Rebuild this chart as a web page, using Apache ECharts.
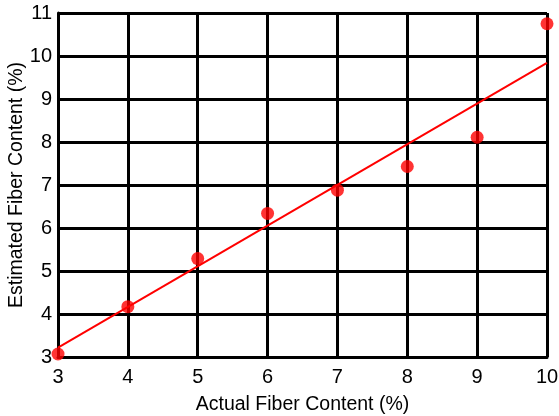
<!DOCTYPE html>
<html>
<head>
<meta charset="utf-8">
<script src="https://cdn.jsdelivr.net/npm/echarts@6/dist/echarts.min.js"></script>
<style>html,body{margin:0;padding:0;background:#fff;}#c{width:559px;height:416px;}</style>
</head>
<body>
<div id="c"></div>
<script>
const actual = [3, 4, 5, 6, 7, 8, 9, 10];
const estimated = [3.07, 4.17, 5.29, 6.34, 6.88, 7.43, 8.11, 10.75];
const fitX = [3, 10];
const fitY = [3.22, 9.84];
const xTitle = 'Actual Fiber Content (%)';
const yTitle = 'Estimated Fiber Content (%)';

const chart = echarts.init(document.getElementById('c'));
const font = 'Liberation Sans, Arial, sans-serif';
chart.setOption({
  animation: false,
  backgroundColor: '#fff',
  grid: {left: 58, right: 12, top: 13, bottom: 59, containLabel: false, outerBoundsMode: 'none'},
  xAxis: {
    type: 'value', min: 3, max: 10, interval: 1,
    name: xTitle, nameLocation: 'middle', nameGap: 38, nameMoveOverlap: false,
    nameTextStyle: {fontFamily: font, fontSize: 19.5, color: '#000'},
    axisLine: {show: true, lineStyle: {color: '#000', width: 3}},
    axisTick: {show: false},
    axisLabel: {fontFamily: font, fontSize: 20, color: '#000', margin: 10},
    splitLine: {show: true, lineStyle: {color: '#000', width: 3}}
  },
  yAxis: {
    type: 'value', min: 3, max: 11, interval: 1,
    name: yTitle, nameLocation: 'middle', nameGap: 31, nameMoveOverlap: false,
    nameTextStyle: {fontFamily: font, fontSize: 19.5, color: '#000'},
    axisLine: {show: true, lineStyle: {color: '#000', width: 3}},
    axisTick: {show: false},
    axisLabel: {fontFamily: font, fontSize: 20, color: '#000', margin: 6},
    splitLine: {show: true, lineStyle: {color: '#000', width: 3}}
  },
  series: [
    {
      type: 'line',
      data: fitX.map((x, i) => [x, fitY[i]]),
      symbol: 'none',
      lineStyle: {color: '#ff0000', width: 2},
      z: 3
    },
    {
      type: 'scatter',
      data: actual.map((x, i) => [x, estimated[i]]),
      symbol: 'circle',
      symbolSize: 13,
      itemStyle: {color: '#ff0000'},
      z: 4
    }
  ]
});
</script>
</body>
</html>
